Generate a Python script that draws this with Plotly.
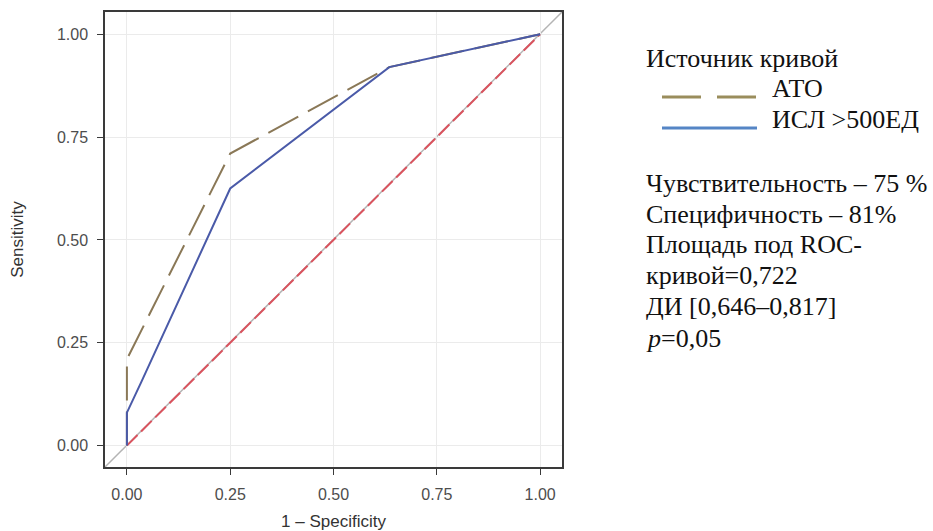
import plotly.graph_objects as go

# ---- data ----
ato_fpr = [0.0, 0.0, 0.25, 0.635, 1.0]
ato_tpr = [0.0, 0.21, 0.71, 0.92, 1.0]
isl_fpr = [0.0, 0.0, 0.035, 0.25, 0.635, 1.0]
isl_tpr = [0.0, 0.08, 0.155, 0.625, 0.92, 1.0]
ref_x = [0.0, 1.0]
ref_y = [0.0, 1.0]
tick_vals = [0.0, 0.25, 0.5, 0.75, 1.0]
tick_text = ["0.00", "0.25", "0.50", "0.75", "1.00"]

legend_title = "Источник кривой"
series_names = ["АТО", "ИСЛ >500ЕД"]
stats_lines = [
    "Чувствительность – 75 %",
    "Специфичность – 81%",
    "Площадь под ROC-",
    "кривой=0,722",
    "ДИ [0,646–0,817]",
    "<i>p</i>=0,05",
]

W, H = 933, 531
ML, MR, MT, MB = 105, 371, 12, 64
PW = W - ML - MR
PH = H - MT - MB


def px_x(p):
    return (p - ML) / PW


def px_y(p):
    return (H - MB - p) / PH


BROWN = "#8a7857"
BLUE = "#4a5aa8"
RED = "#d9535e"
LEG_BROWN = "#9a8d5c"
LEG_BLUE = "#5585c5"

fig = go.Figure()

fig.add_trace(go.Scatter(x=ref_x, y=ref_y, mode="lines",
                         line=dict(color=RED, width=2, dash="15px,5px"),
                         showlegend=False, hoverinfo="skip"))
fig.add_trace(go.Scatter(x=ato_fpr, y=ato_tpr, mode="lines", name=series_names[0],
                         line=dict(color=BROWN, width=2, dash="34px,11px"),
                         showlegend=False))
fig.add_trace(go.Scatter(x=isl_fpr, y=isl_tpr, mode="lines", name=series_names[1],
                         line=dict(color=BLUE, width=2),
                         showlegend=False))

axis_common = dict(
    tickvals=tick_vals, ticktext=tick_text,
    showgrid=True, gridcolor="#ebebeb", gridwidth=1,
    zeroline=False, showline=True, linecolor="#3a3a3a", linewidth=1.5, mirror=True,
    ticks="outside", ticklen=6, tickcolor="#3a3a3a", tickwidth=1.2,
    tickfont=dict(family="Liberation Sans, Arial", size=16, color="#4d4d4d"),
)

fig.update_xaxes(range=[-0.053, 1.053], title=dict(text="1 – Specificity", standoff=15,
                 font=dict(family="Liberation Sans, Arial", size=17, color="#333333")),
                 ticklabelstandoff=6, **axis_common)
fig.update_yaxes(range=[-0.052, 1.054], title=dict(text="Sensitivity", standoff=29,
                 font=dict(family="Liberation Sans, Arial", size=17, color="#333333")),
                 ticklabelstandoff=6, **axis_common)

SERIF = "Liberation Serif, Times New Roman, serif"
FS = 26

ann = []


def add_text(px, py, text):
    ann.append(dict(xref="paper", yref="paper", x=px_x(px), y=px_y(py), text=text,
                    showarrow=False, xanchor="left", yanchor="middle",
                    font=dict(family=SERIF, size=FS, color="#111111")))


add_text(644, 59, legend_title)
add_text(770, 89, series_names[0])
add_text(770, 119, series_names[1])
stat_centers = [183, 214, 245, 276, 307, 338]
for line, cy in zip(stats_lines, stat_centers):
    add_text(644, cy, line)

# full-range gray diagonal beneath the curves
fig.add_shape(type="line", xref="x domain", yref="y domain", x0=0, y0=0, x1=1, y1=1,
              line=dict(color="#b4b4b4", width=1.5), layer="below")

# legend keys
fig.add_shape(type="line", xref="paper", yref="paper", x0=px_x(662), x1=px_x(757),
              y0=px_y(97), y1=px_y(97), line=dict(color=LEG_BROWN, width=3, dash="39px,16px"))
fig.add_shape(type="line", xref="paper", yref="paper", x0=px_x(662), x1=px_x(757),
              y0=px_y(128), y1=px_y(128), line=dict(color=LEG_BLUE, width=3))

fig.update_layout(
    width=W, height=H,
    margin=dict(l=ML, r=MR, t=MT, b=MB, autoexpand=False),
    paper_bgcolor="white", plot_bgcolor="white",
    annotations=ann,
    showlegend=False,
)

fig.write_html("out.html")
